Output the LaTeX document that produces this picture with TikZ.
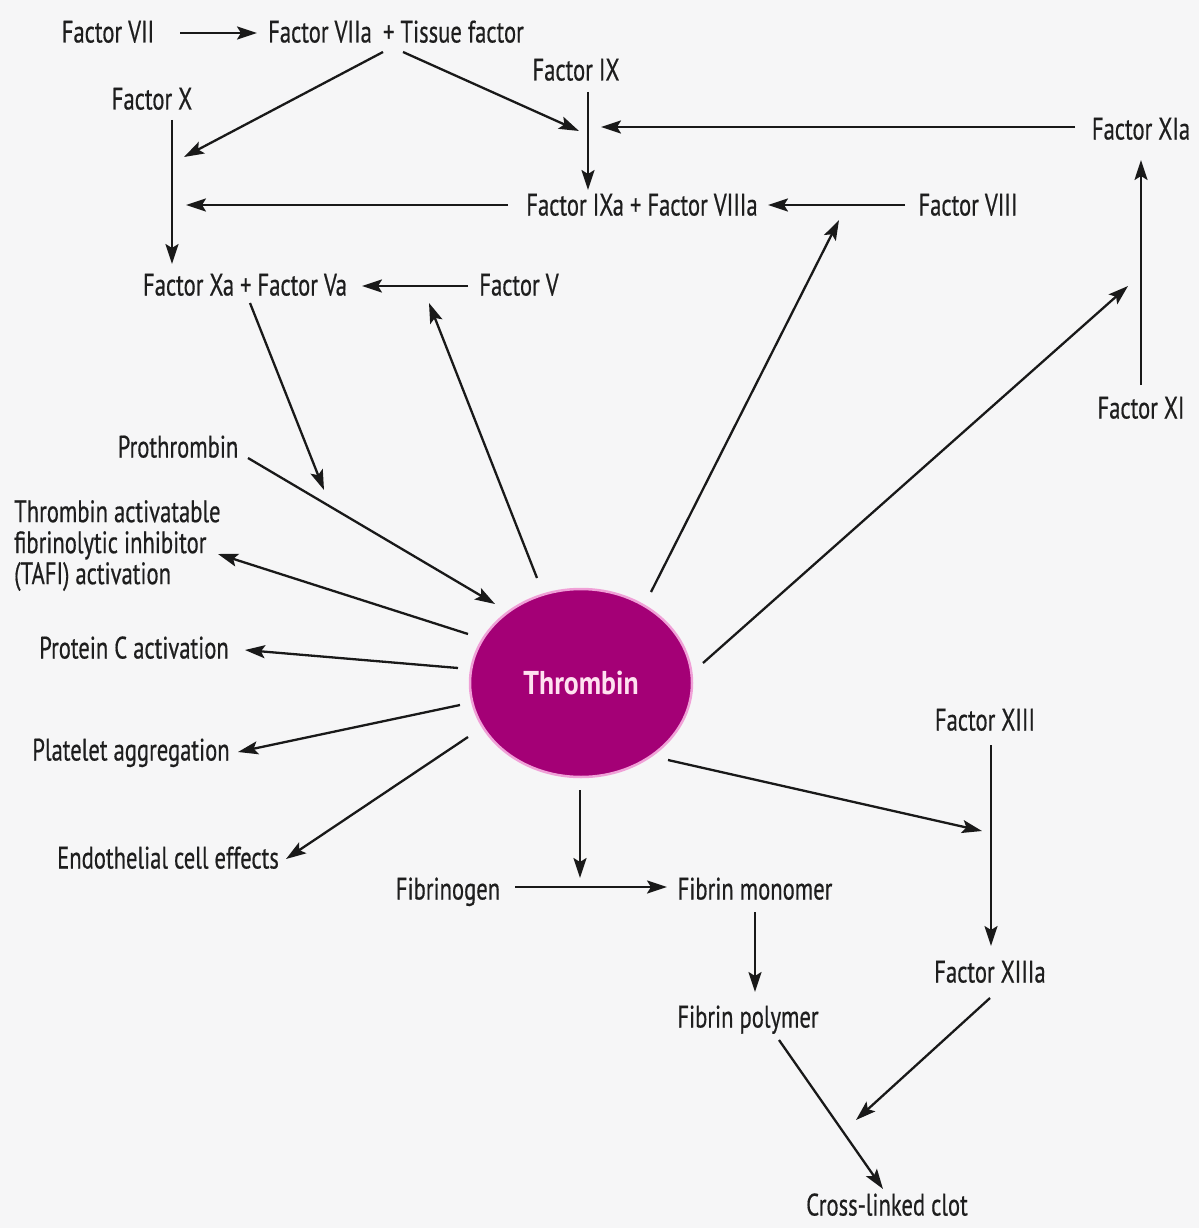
\documentclass[tikz,border=0pt]{standalone}
\usepackage{fontspec}
\setmainfont{PT Sans}[FakeStretch=0.73,FakeBold=0.5]
\newfontfamily\thrfont{PT Sans}[FakeStretch=0.84]
\usetikzlibrary{arrows.meta,shapes.geometric}
\definecolor{bg}{RGB}{246,246,247}
\definecolor{txt}{RGB}{30,30,30}
\definecolor{thr}{RGB}{164,0,118}
\definecolor{thrglow}{RGB}{240,160,215}
\definecolor{thrtext}{RGB}{255,225,240}
\tikzset{
  lbl/.style={font=\fontsize{31}{31}\selectfont, text=txt, inner sep=0pt, text height=21pt, text depth=0pt},
  arr/.style={line width=2.3pt, draw=black!90, -{Stealth[length=20pt,width=13pt,inset=4pt]}}
}
\begin{document}
\begin{tikzpicture}[x=1pt,y=-1pt]
\fill[bg] (0,0) rectangle (1199,1228);
\useasboundingbox (0,0) rectangle (1199,1228);
% thrombin
\node[ellipse, fill=thr, draw=thrglow, line width=2.5pt, minimum width=222pt, minimum height=188pt, inner sep=0pt,
      font=\thrfont\bfseries\fontsize{33}{33}\selectfont, text=thrtext] (thr) at (581,683) {Thrombin};
% labels
\node[lbl] (f7) at (108,32) {Factor VII};
\node[lbl] (f7a) at (396,32) {Factor VIIa \,+ Tissue factor};
\node[lbl] (f9) at (576,70) {Factor IX};
\node[lbl] (f10) at (152,99) {Factor X};
\node[lbl] (f11a) at (1141,129) {Factor XIa};
\node[lbl] (f9a) at (642,205) {Factor IXa + Factor VIIIa};
\node[lbl] (f8) at (968,205) {Factor VIII};
\node[lbl] (f10a) at (245,285) {Factor Xa + Factor Va};
\node[lbl] (f5) at (519,285) {Factor V};
\node[lbl] (f11) at (1141,408) {Factor XI};
\node[lbl] (proth) at (178,447) {Prothrombin};
\node[font=\fontsize{31}{31}\selectfont, text=txt, inner sep=0pt, align=left, anchor=north west] (tafi) at (14,500)
  {Thrombin activatable\\fibrinolytic inhibitor\\(TAFI) activation};
\node[lbl] (protc) at (134,648) {Protein C activation};
\node[lbl] (plat) at (131,750) {Platelet aggregation};
\node[lbl] (endo) at (168,858) {Endothelial cell effects};
\node[lbl] (fbg) at (448,889) {Fibrinogen};
\node[lbl] (fmono) at (755,889) {Fibrin monomer};
\node[lbl] (fpoly) at (748,1017) {Fibrin polymer};
\node[lbl] (clot) at (887,1205) {Cross-linked clot};
\node[lbl] (f13) at (985,720) {Factor XIII};
\node[lbl] (f13a) at (990,972) {Factor XIIIa};
% coordinates for connector ends
\coordinate (a1s) at (180,33);  \coordinate (a1e) at (257,33);
\coordinate (a2s) at (383,52);  \coordinate (a2e) at (184,157);
\coordinate (a3s) at (403,52);  \coordinate (a3e) at (579,131);
\coordinate (a4s) at (588,92);  \coordinate (a4e) at (588,190);
\coordinate (a5s) at (1075,127); \coordinate (a5e) at (601,127);
\coordinate (a6s) at (905,205); \coordinate (a6e) at (768,205);
\coordinate (a7s) at (508,205); \coordinate (a7e) at (186,205);
\coordinate (a8s) at (172,120); \coordinate (a8e) at (172,264);
\coordinate (a9s) at (468,286); \coordinate (a9e) at (362,286);
\coordinate (a10s) at (250,303); \coordinate (a10e) at (324,490);
\coordinate (a11s) at (537,578); \coordinate (a11e) at (429,303);
\coordinate (a12s) at (651,592); \coordinate (a12e) at (839,220);
\coordinate (a13s) at (703,663); \coordinate (a13e) at (1128,286);
\coordinate (a14s) at (1141,385); \coordinate (a14e) at (1141,160);
\coordinate (a15s) at (248,458); \coordinate (a15e) at (495,604);
\coordinate (a16s) at (468,634); \coordinate (a16e) at (218,554);
\coordinate (a17s) at (458,668); \coordinate (a17e) at (245,650);
\coordinate (a18s) at (460,705); \coordinate (a18e) at (238,752);
\coordinate (a19s) at (468,737); \coordinate (a19e) at (286,859);
\coordinate (a20s) at (580,790); \coordinate (a20e) at (580,878);
\coordinate (a21s) at (515,887); \coordinate (a21e) at (667,887);
\coordinate (a22s) at (755,912); \coordinate (a22e) at (755,992);
\coordinate (a23s) at (779,1040); \coordinate (a23e) at (883,1189);
\coordinate (a24s) at (991,745); \coordinate (a24e) at (991,946);
\coordinate (a25s) at (668,760); \coordinate (a25e) at (982,831);
\coordinate (a26s) at (990,998); \coordinate (a26e) at (856,1120);
% connectors
\draw[arr] (a1s) -- (a1e);
\draw[arr] (a2s) -- (a2e);
\draw[arr] (a3s) -- (a3e);
\draw[arr] (a4s) -- (a4e);
\draw[arr] (a5s) -- (a5e);
\draw[arr] (a6s) -- (a6e);
\draw[arr] (a7s) -- (a7e);
\draw[arr] (a8s) -- (a8e);
\draw[arr] (a9s) -- (a9e);
\draw[arr] (a10s) -- (a10e);
\draw[arr] (a11s) -- (a11e);
\draw[arr] (a12s) -- (a12e);
\draw[arr] (a13s) -- (a13e);
\draw[arr] (a14s) -- (a14e);
\draw[arr] (a15s) -- (a15e);
\draw[arr] (a16s) -- (a16e);
\draw[arr] (a17s) -- (a17e);
\draw[arr] (a18s) -- (a18e);
\draw[arr] (a19s) -- (a19e);
\draw[arr] (a20s) -- (a20e);
\draw[arr] (a21s) -- (a21e);
\draw[arr] (a22s) -- (a22e);
\draw[arr] (a23s) -- (a23e);
\draw[arr] (a24s) -- (a24e);
\draw[arr] (a25s) -- (a25e);
\draw[arr] (a26s) -- (a26e);
\end{tikzpicture}
\end{document}
